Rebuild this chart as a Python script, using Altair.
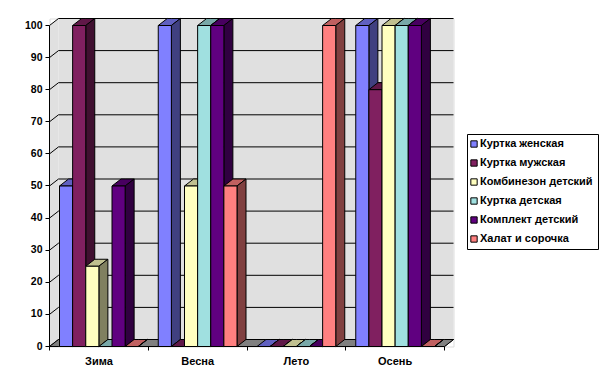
import altair as alt
import pandas as pd

categories = ["Зима", "Весна", "Лето", "Осень"]
series = ["Куртка женская", "Куртка мужская", "Комбинезон детский",
          "Куртка детская", "Комплект детский", "Халат и сорочка"]
values = {
    "Куртка женская": [50, 100, 0, 100],
    "Куртка мужская": [100, 0, 0, 80],
    "Комбинезон детский": [25, 50, 0, 100],
    "Куртка детская": [0, 100, 0, 100],
    "Комплект детский": [50, 100, 0, 100],
    "Халат и сорочка": [0, 50, 100, 0],
}
front_colors = ["#8080ff", "#802060", "#ffffc0", "#a0e0e0", "#600080", "#ff8080"]
top_colors = ["#6060c0", "#601848", "#c0c090", "#78a8a8", "#480060", "#c06060"]
side_colors = ["#404080", "#401030", "#808060", "#507070", "#300040", "#804040"]
y_ticks = list(range(0, 101, 10))

BAND_PX = 98.75
UNIT_PX = 3.21
DX = 9 / BAND_PX
DY = 7 / UNIT_PX
GAP = 10 / BAND_PX
BAR = (BAND_PX - 20) / 6 / BAND_PX
X_MAX = 4 + DX
Y_MAX = 100 + DY

rows = []
pid = [0]


def poly(points, fill):
    pid[0] += 1
    for x, y, y2 in points:
        rows.append({"px": x, "y": y, "y2": y2, "poly": f"p{pid[0]:03d}", "fill": fill})


def top_points(x0, w, v):
    return [(x0, v, v), (x0 + DX, v, v + DY), (x0 + w, v, v + DY), (x0 + w + DX, v + DY, v + DY)]


# walls and floor
poly([(0, 0, 100), (DX, DY, 100 + DY)], "#e0e0e0")
poly([(DX, DY, 100 + DY), (4 + DX, DY, 100 + DY)], "#e0e0e0")
floor_rows_start = len(rows)
poly(top_points(0, 4, 0), "#808080")

# bars, painted left to right: top, side, front
for ci in range(len(categories)):
    for si, name in enumerate(series):
        v = values[name][ci]
        x0 = ci + GAP + si * BAR
        poly(top_points(x0, BAR, v), top_colors[si])
        poly([(x0 + BAR, 0, v), (x0 + BAR + DX, DY, v + DY)], side_colors[si])
        poly([(x0, 0, v), (x0 + BAR, 0, v)], front_colors[si])

table = pd.DataFrame(rows)
walls = table.iloc[:floor_rows_start]
bars = table.iloc[floor_rows_start:]

xs = alt.Scale(domain=[0, X_MAX], nice=False, zero=False)
ys = alt.Scale(domain=[0, Y_MAX], nice=False, zero=False)

xe = alt.X("px:Q", scale=xs, title=None,
           axis=alt.Axis(values=[0, 1, 2, 3, 4], labels=False, domain=False, grid=False,
                         tickColor="black", tickSize=4, tickWidth=1, translate=0))
ye = alt.Y("y:Q", scale=ys, title=None,
           axis=alt.Axis(values=y_ticks, domain=False, grid=False, tickColor="black", tickSize=4,
                         tickWidth=1, labelFont="Liberation Sans", labelFontSize=10.5,
                         labelFontWeight="bold", labelColor="black", labelPadding=3,
                         labelOverlap=False, translate=0))


def faces(df, **kw):
    return alt.Chart(df).mark_area(interpolate="linear", **kw).encode(
        x=xe, y=ye, y2="y2:Q",
        fill=alt.Fill("fill:N", scale=None, legend=None),
        detail="poly:N",
    )


grid_rows = []
for t in y_ticks:
    g = f"g{t}"
    grid_rows += [
        {"px": 0, "y": t, "g": g},
        {"px": DX, "y": t + DY, "g": g},
        {"px": X_MAX, "y": t + DY, "g": g},
    ]
grid_rows += [
    {"px": 0, "y": 0, "g": "edge"},
    {"px": 0, "y": 100, "g": "edge"},
]
grid_rows += [
    {"px": 0, "y": 0, "g": "front"},
    {"px": 4, "y": 0, "g": "front"},
    {"px": X_MAX, "y": DY, "g": "front"},
]
grid = alt.Chart(pd.DataFrame(grid_rows)).mark_line(color="black", strokeWidth=1).encode(
    x=xe, y=ye, detail="g:N")

legend_df = pd.DataFrame({"series": series, "px": [0.5] * 6, "y": [1] * 6})
legend_layer = alt.Chart(legend_df).mark_square(size=4).encode(
    x=xe, y=ye,
    color=alt.Color("series:N", sort=series,
                    scale=alt.Scale(domain=series, range=front_colors),
                    legend=alt.Legend(
                        orient="none", legendX=417.5, legendY=115.5, title=None,
                        fillColor="white", strokeColor="black", padding=4.5,
                        labelFont="Liberation Sans", labelFontSize=11, labelFontWeight="bold",
                        labelColor="black", symbolType="square", symbolSize=40,
                        symbolStrokeColor="black", symbolStrokeWidth=1, symbolOpacity=1,
                        symbolOffset=-3, rowPadding=7, labelOffset=0.5, labelLimit=200)),
)

cat_df = pd.DataFrame({"name": categories, "px": [i + 0.5 for i in range(4)], "y": [0] * 4})
cat_text = alt.Chart(cat_df).mark_text(
    font="Liberation Sans", fontSize=11, fontWeight="bold", color="black", dy=15, baseline="middle"
).encode(x=xe, y=ye, text="name:N")

chart = alt.layer(legend_layer, faces(walls), grid, faces(bars, stroke="black", strokeWidth=1), cat_text).properties(
    width=404, height=328,
    padding={"left": 41.5, "top": 10.5, "right": 148, "bottom": 28},
    autosize="none",
).configure_view(stroke=None).configure(background="white")

chart.save("out.html", embed_options={"renderer": "svg", "actions": False})
